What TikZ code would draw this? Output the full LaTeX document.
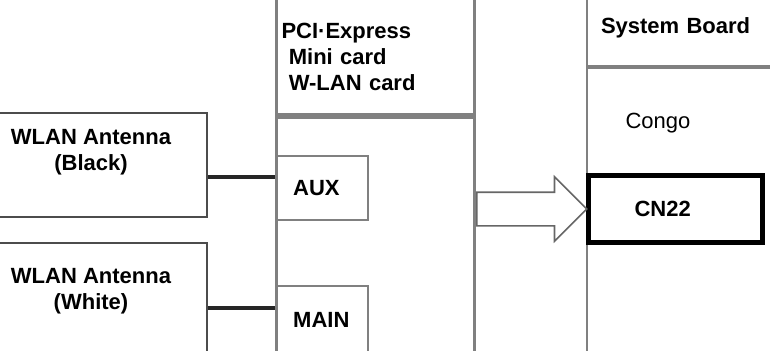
\documentclass[tikz,border=0pt]{standalone}
\usepackage{fontspec}
\setmainfont{Liberation Sans}
\usetikzlibrary{shapes, arrows, positioning, calc}
\newcommand{\cardfont}{\fontsize{11}{13}\selectfont}
\tikzstyle{wall} = [draw=gray, line width=1.5pt, rectangle, inner sep=0pt]
\tikzstyle{antenna} = [draw=black!70, line width=1pt, rectangle, minimum width=116pt, minimum height=52pt]
\tikzstyle{port} = [draw=gray, line width=1.2pt, rectangle, anchor=north west, align=left, font=\cardfont\bfseries, minimum height=32pt, text width=29pt, inner xsep=8.5pt]
\tikzstyle{link} = [draw=black!85, line width=2pt]
\tikzstyle{bigarrow} = [single arrow, draw=gray!80!black, line width=0.8pt, fill=white, inner sep=8pt, single arrow head extend=7.75pt, minimum height=55pt]

\begin{document}
\begin{tikzpicture}[x=0.5pt, y=-0.5pt]
    \useasboundingbox (0,0) rectangle (770,350);
    \clip (0,0) rectangle (770,350);
    % W-LAN card
    \node[wall, anchor=north west, minimum width=99pt, minimum height=58pt, text width=94pt, inner xsep=2.5pt, align=left, font=\cardfont\bfseries] (pcihead) at (275,-3) {PCI·Express\\ \ Mini card\\ \ W-LAN card};
    \node[wall, anchor=north, minimum width=99pt, minimum height=126pt] (pcibody) at (pcihead.south) {};
    \node[port] (aux) at (275,155) {AUX};
    \node[port, minimum height=34pt] (main) at (275,285) {MAIN};
    % antennas
    \node[antenna] (blkbox) at (91,165) {};
    \node[antenna, anchor=north, minimum height=70pt] (whtbox) at (91,242) {};
    \node[align=center, font=\cardfont\bfseries] (blktxt) at (91,152) {WLAN Antenna\\(Black)};
    \node[align=center, font=\cardfont\bfseries] (whttxt) at (91,291) {WLAN Antenna\\(White)};
    % system board
    \node[wall, line width=1pt, anchor=south west, minimum width=97pt, minimum height=38pt, text width=83pt, inner xsep=7pt, align=left, font=\cardfont\bfseries] (sbhead) at (586,67) {System Board};
    \node[wall, line width=1pt, anchor=north, minimum width=97pt, minimum height=150pt] (sbbody) at (sbhead.south) {};
    \node[font=\cardfont] (congo) at (658,123) {Congo};
    \node[draw=black, line width=2.5pt, rectangle, anchor=north west, minimum width=87pt, minimum height=33.5pt, text width=41pt, inner xsep=23pt, align=left, font=\cardfont\bfseries] (cn22) at (586,173) {CN22};
    % cables and feed
    \draw[link] ([yshift=-6pt]blkbox.east) -- ([yshift=-6pt]blkbox.east -| aux.west);
    \draw[link] ([yshift=2.5pt]whtbox.east) -- ([yshift=2.5pt]whtbox.east -| main.west);
    \node[bigarrow, anchor=tail] (feed) at (pcibody.east |- cn22.west) {};
\end{tikzpicture}
\end{document}
